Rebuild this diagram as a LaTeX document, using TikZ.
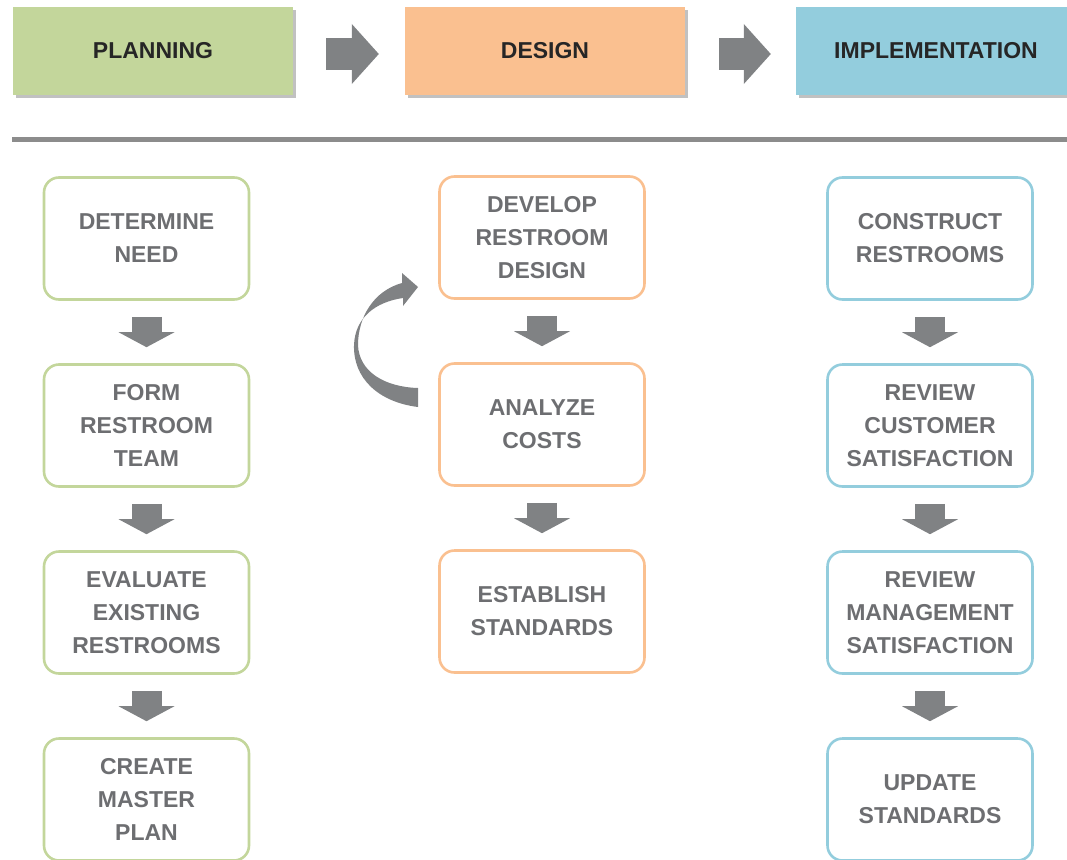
\documentclass[tikz,border=0pt]{standalone}
\usepackage{fontspec}
\setmainfont{Liberation Sans}
\usetikzlibrary{positioning,arrows.meta,shadows}

\definecolor{plangreen}{HTML}{C3D69B}
\definecolor{designorange}{HTML}{FAC090}
\definecolor{implblue}{HTML}{93CDDD}
\definecolor{textgray}{HTML}{6D6E71}
\definecolor{headtext}{HTML}{262626}
\definecolor{arrowgray}{HTML}{808284}
\definecolor{rulegray}{HTML}{8C8C8C}

\begin{document}
\begin{tikzpicture}[x=1pt,y=-1pt]
      \tikzstyle{every node}+=[font=\bfseries\fontsize{23}{33}\selectfont, align=center]
      \tikzstyle{phase}=[minimum width=280pt, minimum height=88pt, inner sep=0pt, text=headtext,
        drop shadow={shadow xshift=3pt, shadow yshift=-3pt, opacity=0.35, fill=black!70}]
      \tikzstyle{stepbox}=[draw, line width=2.6pt, rounded corners=15pt, minimum width=205pt,
        minimum height=122pt, inner sep=0pt, text=textgray, fill=white]
      \tikzstyle{downconn}=[arrowgray, line width=30pt, -{Triangle[width=56pt,length=15pt,line width=0pt]}]
      \tikzstyle{phaseconn}=[arrowgray, line width=31pt, -{Triangle[width=60pt,length=27pt,line width=0pt]}]
      \useasboundingbox (0,0) rectangle (1067,859);
      \clip (0,0) rectangle (1067,859);
      % phases
      \node [phase, fill=plangreen] (plan) at (153,51) {PLANNING};
      \node [phase, fill=designorange] (design) at (545,51) {DESIGN};
      \node [phase, fill=implblue] (impl) at (936,51) {IMPLEMENTATION};
      \draw [phaseconn] ([xshift=33pt,yshift=-3pt]plan.east) -- ([xshift=-26pt,yshift=-3pt]design.west);
      \draw [phaseconn] ([xshift=34pt,yshift=-3pt]design.east) -- ([xshift=-25pt,yshift=-3pt]impl.west);
      \draw [rulegray, line width=5pt] (12,139) -- (1067,139);
      % steps
      \begin{scope}[node distance=62.4pt]
        \node [stepbox, draw=plangreen] (need) at (146.5,238.5) {DETERMINE\\NEED};
        \node [stepbox, draw=plangreen, below=of need] (team) {FORM\\RESTROOM\\TEAM};
        \node [stepbox, draw=plangreen, below=of team] (evaluate) {EVALUATE\\EXISTING\\RESTROOMS};
        \node [stepbox, draw=plangreen, below=of evaluate] (master) {CREATE\\MASTER\\PLAN};
        \node [stepbox, draw=designorange] (develop) at (542,237.5) {DEVELOP\\RESTROOM\\DESIGN};
        \node [stepbox, draw=designorange, below=of develop] (costs) {ANALYZE\\COSTS};
        \node [stepbox, draw=designorange, below=of costs] (establish) {ESTABLISH\\STANDARDS};
        \node [stepbox, draw=implblue] (construct) at (930,238.5) {CONSTRUCT\\RESTROOMS};
        \node [stepbox, draw=implblue, below=of construct] (customer) {REVIEW\\CUSTOMER\\SATISFACTION};
        \node [stepbox, draw=implblue, below=of customer] (management) {REVIEW\\MANAGEMENT\\SATISFACTION};
        \node [stepbox, draw=implblue, below=of management] (update) {UPDATE\\STANDARDS};
      \end{scope}
      \draw [downconn] ([yshift=-16pt]need.south) -- ([yshift=16pt]team.north);
      \draw [downconn] ([yshift=-16pt]team.south) -- ([yshift=16pt]evaluate.north);
      \draw [downconn] ([yshift=-16pt]evaluate.south) -- ([yshift=16pt]master.north);
      \draw [downconn] ([yshift=-16pt]develop.south) -- ([yshift=16pt]costs.north);
      \draw [downconn] ([yshift=-16pt]costs.south) -- ([yshift=16pt]establish.north);
      \draw [downconn] ([yshift=-16pt]construct.south) -- ([yshift=16pt]customer.north);
      \draw [downconn] ([yshift=-16pt]customer.south) -- ([yshift=16pt]management.north);
      \draw [downconn] ([yshift=-16pt]management.south) -- ([yshift=16pt]update.north);
      % loop back
      \fill [arrowgray] (418,407) .. controls (378,402) and (353,378) .. (354,345)
        .. controls (355,318) and (375,302) .. (403,298) -- (403,306) -- (418,287) -- (402,273)
        -- (402,283) .. controls (373,291) and (358,318) .. (358,345)
        .. controls (359,372) and (385,387) .. (418,388) -- cycle;
    \end{tikzpicture}
\end{document}
